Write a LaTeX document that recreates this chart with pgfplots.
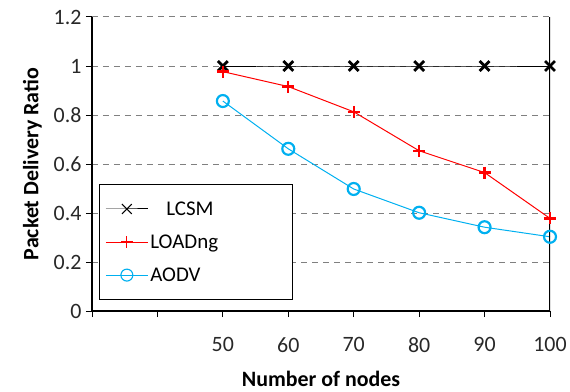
\documentclass[border=0pt]{standalone}
\usepackage{pgfplots}
\pgfplotsset{compat=1.18}
\usepackage{fontspec}
\setmainfont{Carlito}
\definecolor{aodv}{RGB}{0,176,240}
\definecolor{tick}{RGB}{40,40,40}
\begin{document}
\begin{tikzpicture}
\begin{axis}[
  scale only axis, width=458bp, height=294bp,
  xmin=30, xmax=100, ymin=0, ymax=1.2,
  axis x line*=bottom, axis y line*=left,
  axis line style={-, line width=1.2pt},
  xtick={30,40,50,60,70,80,90,100},
  xticklabels={,,50,60,70,80,90,100},
  ytick={0,0.2,0.4,0.6,0.8,1,1.2},
  yticklabels={0,0.2,0.4,0.6,0.8,1,1.2},
  tick align=outside, tick style={black, line width=1pt}, major tick length=6bp,
  ymajorgrids, major grid style={dash pattern=on 6bp off 5bp, gray, line width=1pt},
  ticklabel style={font=\fontsize{22}{22}\selectfont, text=tick},
  xticklabel style={yshift=-17bp},
  yticklabel style={xshift=-1bp},
  xlabel={\textbf{Number of nodes}}, ylabel={\textbf{Packet Delivery Ratio}},
  label style={font=\fontsize{22}{22}\selectfont, text=black},
  xlabel style={yshift=-12bp},
  ylabel style={yshift=5bp},
  legend style={at={(0.015,0.037)}, anchor=south west, draw=black, line width=1pt, fill=white,
     font=\fontsize{21}{21}\selectfont, row sep=14bp, inner xsep=6bp, inner ysep=15bp},
  legend cell align=left,
  legend image code/.code={\draw[mark repeat=2,mark phase=2,#1, mark options={line width=1.1pt}] plot coordinates {(0bp,0bp) (21bp,0bp) (42bp,0bp)};},
]
\addplot[black, line width=1pt, mark=x, mark size=7pt, mark options={line width=2.8pt}] coordinates {(50,1) (60,1) (70,1) (80,1) (90,1) (100,1)};
\addlegendentry{\hspace{16bp}LCSM}
\addplot[red, line width=1pt, mark=+, mark size=6pt, mark options={line width=2.4pt}] coordinates {(50,0.977) (60,0.916) (70,0.813) (80,0.654) (90,0.565) (100,0.378)};
\addlegendentry{\makebox[134bp][l]{LOADng}}
\addplot[aodv, line width=1pt, mark=o, mark size=6pt, mark options={line width=2.2pt}] coordinates {(50,0.857) (60,0.662) (70,0.498) (80,0.401) (90,0.342) (100,0.303)};
\addlegendentry{AODV}
\draw[black, line width=1.2pt] (rel axis cs:1,0) -- (rel axis cs:1,1);
\end{axis}
\path (current axis.south west) ++(-92bp,-81bp) rectangle ++(570bp,392bp);
\end{tikzpicture}
\end{document}
